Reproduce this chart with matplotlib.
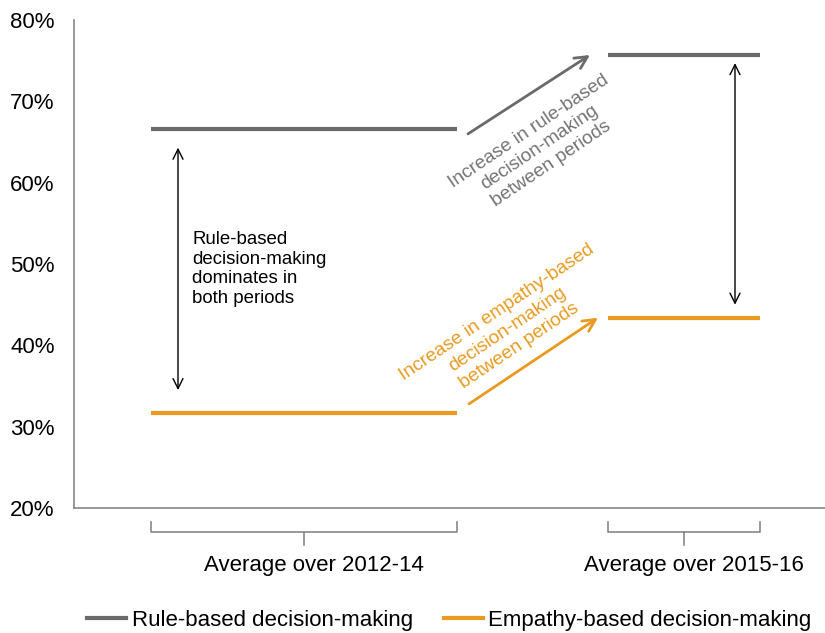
import numpy as np
import matplotlib.pyplot as plt
import matplotlib.transforms as mtransforms

plt.rcParams['font.family'] = ['Liberation Sans', 'DejaVu Sans']

# data
periods = ['Average over 2012-14', 'Average over 2015-16']
rule_based = [66.6, 75.7]
empathy_based = [31.7, 43.4]
series_names = ['Rule-based decision-making', 'Empathy-based decision-making']
yticks = [20, 30, 40, 50, 60, 70, 80]

# layout (x in pixel-like units)
seg_start = [151, 608]
seg_end = [457, 760]
grey = '#6a6a6a'
orange = '#e89b20'
axis_grey = '#888888'

fig = plt.figure(figsize=(8.25, 6.33), dpi=100)
ax = fig.add_axes([74/825, 125/633, 751/825, 488/633])
ax.set_xlim(74, 825)
ax.set_ylim(20, 80)

for i in range(2):
    ax.plot([seg_start[i], seg_end[i]], [rule_based[i], rule_based[i]], color=grey, lw=3, solid_capstyle='butt')
    ax.plot([seg_start[i], seg_end[i]], [empathy_based[i], empathy_based[i]], color=orange, lw=3, solid_capstyle='butt')

ax.set_yticks(yticks)
ax.set_yticklabels(['%d%%' % v for v in yticks])
ax.tick_params(axis='y', length=0, pad=14, labelsize=16)
ax.set_xticks([])
for s in ['top', 'right']:
    ax.spines[s].set_visible(False)
for s in ['left', 'bottom']:
    ax.spines[s].set_color(axis_grey)
    ax.spines[s].set_linewidth(1.2)

# brackets under the axis
trans = mtransforms.blended_transform_factory(ax.transData, ax.transAxes)
for i in range(2):
    mid = (seg_start[i] + seg_end[i]) / 2
    ax.plot([seg_start[i], seg_start[i], seg_end[i], seg_end[i]], [-0.029, -0.049, -0.049, -0.029],
            color=axis_grey, lw=1.2, transform=trans, clip_on=False)
    ax.plot([mid, mid], [-0.049, -0.076], color=axis_grey, lw=1.2, transform=trans, clip_on=False)
    ax.text(mid + 10, -0.117, periods[i], transform=trans, ha='center', va='center', fontsize=16)

# double arrows
ax.annotate('', xy=(178, 64.3), xytext=(178, 34.5),
            arrowprops=dict(arrowstyle='<->', color='black', lw=1, mutation_scale=18, shrinkA=0, shrinkB=0))
ax.annotate('', xy=(735, 74.7), xytext=(735, 45.0),
            arrowprops=dict(arrowstyle='<->', color='black', lw=1, mutation_scale=18, shrinkA=0, shrinkB=0))
ax.text(192, 49.4, 'Rule-based\ndecision-making\ndominates in\nboth periods', ha='left', va='center',
        fontsize=13.4, linespacing=1.2)

# increase arrows
ax.annotate('', xy=(590, 75.7), xytext=(468, 66.0),
            arrowprops=dict(arrowstyle='->', color=grey, lw=2, mutation_scale=22, shrinkA=0, shrinkB=0))
ax.annotate('', xy=(598, 43.4), xytext=(469, 32.8),
            arrowprops=dict(arrowstyle='->', color=orange, lw=2, mutation_scale=22, shrinkA=0, shrinkB=0))
ax.text(540, 64.3, 'Increase in rule-based\ndecision-making\nbetween periods', color='#747474', fontsize=13.8,
        rotation=34, rotation_mode='anchor', ha='center', va='center', multialignment='center', linespacing=1.2)
ax.text(508, 42.0, 'Increase in empathy-based\ndecision-making\nbetween periods', color=orange, fontsize=13.8,
        rotation=34, rotation_mode='anchor', ha='center', va='center', multialignment='center', linespacing=1.2)

# legend
handles = [plt.Line2D([], [], color=grey, lw=3), plt.Line2D([], [], color=orange, lw=3)]
ax.legend(handles, series_names, loc='center', bbox_to_anchor=(0.5, -0.23), ncol=2, frameon=False,
          fontsize=16, handlelength=1.75, handletextpad=0.25, columnspacing=1.4, borderaxespad=0)

fig.savefig('out.png', dpi=100)
